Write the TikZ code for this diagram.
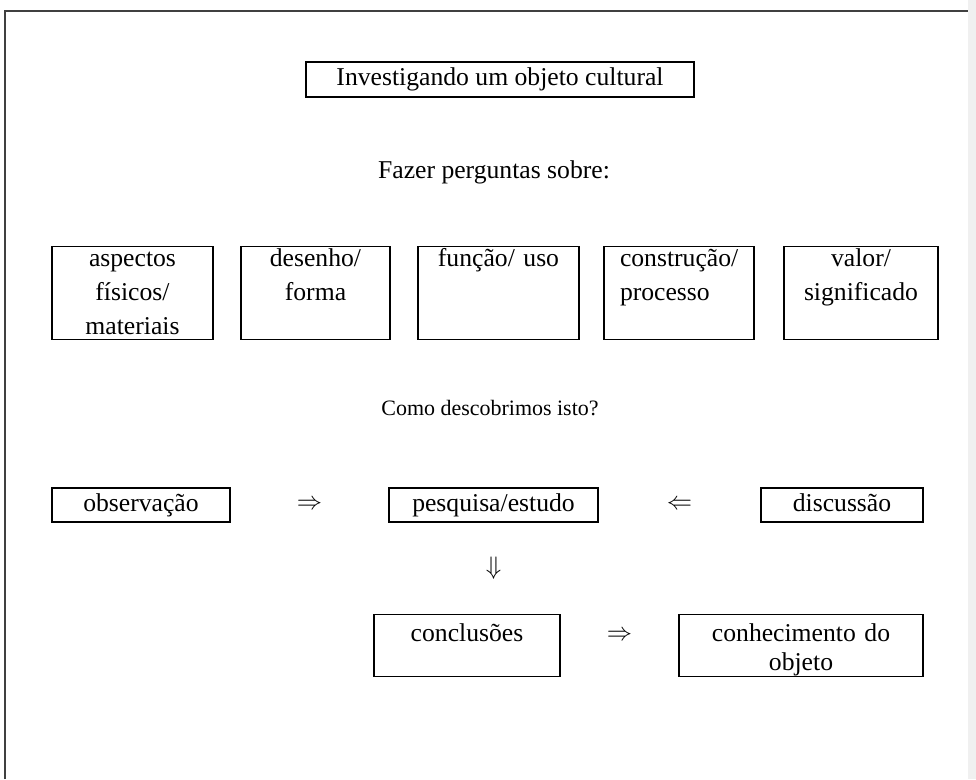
\documentclass[tikz,border=0pt]{standalone}
\usepackage{fontspec}
\setmainfont{Liberation Serif}
\usetikzlibrary{calc}
\begin{document}
\begin{tikzpicture}[x=0.2mm,y=-0.2mm,
		txt/.style={font=\fontsize{14.6}{19.3}\selectfont},
		box/.style={txt,draw,line width=0.7pt,inner sep=0pt,align=center},
		tallbox/.style={box,anchor=north,text width=26mm,text height=4mm,text depth=14.6mm},
		lowbox/.style={box,anchor=north,text width=46mm,text height=5.4mm,text depth=7mm,font=\fontsize{14.6}{16.5}\selectfont},
		flatbox/.style={box,text height=4.6mm,text depth=2.2mm},
		frame/.style={line width=0.7pt,black!75}]
				\useasboundingbox (0,0) rectangle (976,779);
				\coordinate (BL) at (5,779);
				\coordinate (TL) at (5,11);
				\coordinate (TR) at (968,11);
				\fill[black!6] (968,0) rectangle (976,779);
				\draw[frame] (BL) -- (TL) -- (TR);
				% titulo
				\node[box,minimum width=77.6mm,minimum height=7mm] (titulo) at (500,79.5) {Investigando um objeto cultural};
				\node[txt,anchor=base] (fazer) at (494,178) {Fazer perguntas sobre:};
				% perguntas
				\node[tallbox,minimum width=32.2mm] (fisico) at (132.5,246) {aspectos\\físicos/\\materiais};
				\node[tallbox,minimum width=29.8mm] (desenho) at (315.5,246) {desenho/\\forma};
				\node[tallbox,minimum width=32.2mm] (funcao) at (498.5,246) {função/ uso};
				\node[tallbox,minimum width=30mm,text width=23.6mm,align=left] (construcao) at (679,246) {construção/\\processo};
				\node[tallbox,minimum width=30.8mm] (valor) at (861,246) {valor/\\significado};
				\node[txt,anchor=base,font=\fontsize{12.5}{15}\selectfont] (como) at (490,415) {Como descobrimos isto?};
				% caminho
				\node[flatbox,minimum width=35.6mm] (observacao) at (141,505) {observação};
				\node[flatbox,minimum width=41.8mm] (pesquisa) at (493.5,505) {pesquisa/estudo};
				\node[flatbox,minimum width=32.4mm] (discussao) at (842,505) {discussão};
				\node[lowbox,minimum width=37.2mm,text width=34mm] (conclusoes) at (467,614) {conclusões};
				\node[lowbox,minimum width=48.8mm] (conhecimento) at (801,614) {conhecimento do\\objeto};
				\node[txt] (seta1) at ($(observacao.east)!0.5!(pesquisa.west)$) {$\Rightarrow$};
				\node[txt] (seta2) at ($(pesquisa.east)!0.5!(discussao.west)$) {$\Leftarrow$};
				\node[txt] (seta3) at ($(pesquisa.south)!0.5!(pesquisa.south |- conclusoes.north)$) {$\Downarrow$};
				\node[txt] (seta4) at ($(conclusoes.east)!0.5!(conhecimento.west) + (0,-10)$) {$\Rightarrow$};
\end{tikzpicture}
\end{document}
